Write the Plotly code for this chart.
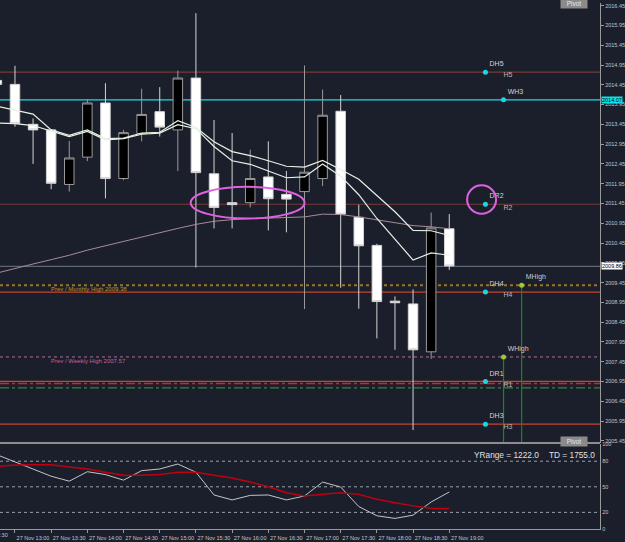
import plotly.graph_objects as go

# ---------------- data ----------------
times = ['2015-11-27 12:45', '2015-11-27 13:00', '2015-11-27 13:15', '2015-11-27 13:30',
         '2015-11-27 13:45', '2015-11-27 14:00', '2015-11-27 14:15', '2015-11-27 14:30',
         '2015-11-27 14:45', '2015-11-27 15:00', '2015-11-27 15:15', '2015-11-27 15:30',
         '2015-11-27 15:45', '2015-11-27 16:00', '2015-11-27 16:15', '2015-11-27 16:30',
         '2015-11-27 16:45', '2015-11-27 17:00', '2015-11-27 17:15', '2015-11-27 17:30',
         '2015-11-27 17:45', '2015-11-27 18:00', '2015-11-27 18:15', '2015-11-27 18:30',
         '2015-11-27 18:45', '2015-11-27 19:00']

opens = [2014.56, 2014.46, 2013.45, 2013.31, 2011.93, 2012.62, 2013.99, 2012.08, 2013.22,
         2013.77, 2013.31, 2014.62, 2012.20, 2011.47, 2011.47, 2012.12, 2011.68, 2011.75,
         2012.08, 2013.78, 2011.10, 2010.39, 2008.98, 2008.91, 2007.70, 2010.81]
highs = [2014.60, 2014.93, 2013.60, 2013.33, 2013.03, 2014.08, 2014.49, 2013.31, 2014.35,
         2014.39, 2014.81, 2016.26, 2013.56, 2013.23, 2012.81, 2013.02, 2012.27, 2014.94,
         2014.33, 2014.19, 2011.42, 2010.43, 2009.10, 2009.28, 2011.22, 2011.18]
lows = [2014.40, 2013.39, 2012.45, 2011.81, 2011.75, 2012.52, 2011.58, 2012.04, 2013.02,
        2013.14, 2012.27, 2009.83, 2010.82, 2010.82, 2011.35, 2010.77, 2010.72, 2008.78,
        2011.89, 2009.32, 2008.79, 2008.04, 2007.75, 2005.72, 2007.52, 2009.77]
closes = [2014.46, 2013.47, 2013.31, 2011.96, 2012.60, 2013.99, 2012.08, 2013.24, 2013.70,
          2013.38, 2014.62, 2012.23, 2011.35, 2011.42, 2012.08, 2011.57, 2011.56, 2012.24,
          2013.68, 2011.18, 2010.38, 2008.97, 2008.94, 2007.75, 2010.83, 2009.87]

ema_fast = [2013.91, 2013.81, 2013.71, 2013.31, 2013.17, 2013.31, 2013.09, 2013.10, 2013.23,
            2013.25, 2013.54, 2013.37, 2013.01, 2012.76, 2012.66, 2012.53, 2012.39, 2012.37,
            2012.54, 2012.31, 2012.06, 2011.65, 2011.24, 2010.77, 2010.76, 2010.64]
ema_slow = [2013.48, 2013.47, 2013.42, 2013.27, 2013.14, 2013.27, 2013.06, 2013.09, 2013.20,
            2013.23, 2013.44, 2013.34, 2012.89, 2012.53, 2012.44, 2012.27, 2012.10, 2012.12,
            2012.45, 2012.14, 2011.67, 2011.07, 2010.54, 2010.02, 2010.20, 2010.14]
ma_long = [2009.69, 2009.81, 2009.92, 2010.03, 2010.14, 2010.27, 2010.38, 2010.49, 2010.61,
           2010.72, 2010.82, 2010.92, 2011.00, 2011.04, 2011.07, 2011.08, 2011.09, 2011.11,
           2011.18, 2011.17, 2011.11, 2011.04, 2010.97, 2010.89, 2010.86, 2010.81]

osc_main = [87.6, 79.1, 70.6, 62.4, 56.6, 67.7, 64.3, 57.8, 68.9, 70.9, 76.7, 67.1, 40.4,
            34.6, 39.9, 40.4, 34.6, 39.2, 55.5, 49.7, 26.8, 16.0, 12.9, 16.7, 32.2, 43.9]
osc_signal = [73.8, 75.5, 75.9, 75.9, 73.2, 70.9, 67.1, 63.6, 63.6, 64.3, 67.1, 67.1, 63.6,
              60.4, 55.5, 50.0, 43.0, 39.2, 41.1, 43.0, 41.1, 35.3, 31.4, 27.6, 24.8, 24.5]
osc_levels = [20, 50, 80]
osc_ticks = [0, 20, 50, 80, 100]

daily_names = ['DH5', 'DR2', 'DH4', 'DR1', 'DH3']
daily_subs = ['H5', 'R2', 'H4', 'R1', 'H3']
daily_levels = [2014.77, 2011.43, 2009.21, 2006.95, 2005.87]
daily_time = '2015-11-27 19:30'
sub_time = '2015-11-27 19:45'

weekly_h3 = 2014.07
weekly_h3_time = '2015-11-27 19:45'
current_price = 2009.86
prev_month_high = 2009.38
prev_week_high = 2007.57
mhigh_time = '2015-11-27 20:00'
whigh_time = '2015-11-27 19:45'
red_dashdot_level = 2006.90
green_dashdot_level = 2006.79

price_ticks = [2005.45 + 0.5 * i for i in range(23)]
time_ticks = ['2015-11-27 13:00', '2015-11-27 13:30', '2015-11-27 14:00', '2015-11-27 14:30',
              '2015-11-27 15:00', '2015-11-27 15:30', '2015-11-27 16:00', '2015-11-27 16:30',
              '2015-11-27 17:00', '2015-11-27 17:30', '2015-11-27 18:00', '2015-11-27 18:30',
              '2015-11-27 19:00']
x_range = ['2015-11-27 12:47:35', '2015-11-27 21:05:00']
y_range = [2005.3925, 2016.5175]

yrange_value = 1222.0
td_value = 1755.0

# ---------------- styling helpers ----------------
W, H = 625, 542
BG = '#1b1f2b'
FONT = 'Liberation Sans, Arial, sans-serif'
XDOM = [0, 601 / W]


def py(px):
    return 1 - px / H


def pxx(px):
    return px / W


fig = go.Figure()

# candles
fig.add_trace(go.Candlestick(
    x=times, open=opens, high=highs, low=lows, close=closes,
    increasing=dict(fillcolor='#000000', line=dict(color='#9a9a9a', width=1)),
    decreasing=dict(fillcolor='#ffffff', line=dict(color='#d4d4d4', width=1)),
    whiskerwidth=0, hoverinfo='skip', showlegend=False, xaxis='x', yaxis='y'))

# moving averages
fig.add_trace(go.Scatter(x=times, y=ma_long, mode='lines', line=dict(color='#a88a9c', width=1),
                         hoverinfo='skip', showlegend=False, xaxis='x', yaxis='y'))
fig.add_trace(go.Scatter(x=times, y=ema_fast, mode='lines', line=dict(color='#e4f2e4', width=1.2),
                         hoverinfo='skip', showlegend=False, xaxis='x', yaxis='y'))
fig.add_trace(go.Scatter(x=times, y=ema_slow, mode='lines', line=dict(color='#e4f2e4', width=1.2),
                         hoverinfo='skip', showlegend=False, xaxis='x', yaxis='y'))

shapes = []
# horizontal level lines
for name, lvl in zip(daily_names, daily_levels):
    col = '#7a3a36' if lvl > current_price else '#c8452f'
    shapes.append(dict(type='line', xref='x domain', yref='y', x0=0, x1=1, y0=lvl, y1=lvl,
                       line=dict(color=col, width=1.2), layer='below'))
shapes.append(dict(type='line', xref='x domain', yref='y', x0=0, x1=1, y0=weekly_h3, y1=weekly_h3,
                   line=dict(color='#10e0ec', width=1.2), layer='below'))
shapes.append(dict(type='line', xref='x domain', yref='y', x0=0, x1=1, y0=current_price, y1=current_price,
                   line=dict(color='#5c6674', width=1.2), layer='below'))
shapes.append(dict(type='line', xref='x domain', yref='y', x0=0, x1=1, y0=prev_month_high, y1=prev_month_high,
                   line=dict(color='#9c7420', width=2, dash='dot'), layer='below'))
shapes.append(dict(type='line', xref='x domain', yref='y', x0=0, x1=1, y0=prev_week_high, y1=prev_week_high,
                   line=dict(color='#b0709c', width=1, dash='dot'), layer='below'))
shapes.append(dict(type='line', xref='x domain', yref='y', x0=0, x1=1, y0=red_dashdot_level, y1=red_dashdot_level,
                   line=dict(color='#e02020', width=1.5, dash='dashdot'), layer='below'))
shapes.append(dict(type='line', xref='x domain', yref='y', x0=0, x1=1, y0=green_dashdot_level, y1=green_dashdot_level,
                   line=dict(color='#2a8a3c', width=1.2, dash='dashdot'), layer='below'))

# oscillator grid
for lv in osc_levels:
    shapes.append(dict(type='line', xref='x2 domain', yref='y2', x0=0, x1=1, y0=lv, y1=lv,
                       line=dict(color='#9aa0a8', width=1, dash='dot'), layer='below'))

# panel separator
shapes.append(dict(type='line', xref='paper', yref='paper', x0=0, x1=XDOM[1], y0=py(445), y1=py(445),
                   line=dict(color='#8e8e8e', width=2)))

# hand drawn highlight circles
shapes.append(dict(type='circle', xref='x', yref='y',
                   x0='2015-11-27 15:25:40', x1='2015-11-27 17:00:00', y0=2011.07, y1=2011.87,
                   line=dict(color='#e060e0', width=2)))
shapes.append(dict(type='circle', xref='x', yref='y',
                   x0='2015-11-27 19:14:50', x1='2015-11-27 19:38:50', y0=2011.19, y1=2011.91,
                   line=dict(color='#e060e0', width=2)))

# MHigh / WHigh verticals
fig.add_trace(go.Scatter(x=[mhigh_time, mhigh_time], y=[prev_month_high, y_range[0]], mode='lines',
                         line=dict(color='#168a16', width=1.2), hoverinfo='skip', showlegend=False))
fig.add_trace(go.Scatter(x=[whigh_time, whigh_time], y=[prev_week_high, y_range[0]], mode='lines',
                         line=dict(color='#168a16', width=1.2), hoverinfo='skip', showlegend=False))

# level markers and names
fig.add_trace(go.Scatter(x=[daily_time] * len(daily_levels), y=daily_levels, mode='markers+text',
                         text=daily_names, textposition='top right',
                         textfont=dict(family=FONT, size=7, color='#d4d4d4'),
                         marker=dict(color='#18d8e8', size=5), hoverinfo='skip', showlegend=False))
fig.add_trace(go.Scatter(x=[sub_time] * len(daily_levels), y=daily_levels, mode='text',
                         text=daily_subs, textposition='bottom right',
                         textfont=dict(family=FONT, size=7, color='#b8b8b8'),
                         hoverinfo='skip', showlegend=False))
fig.add_trace(go.Scatter(x=[weekly_h3_time], y=[weekly_h3], mode='markers+text',
                         text=['WH3'], textposition='top right',
                         textfont=dict(family=FONT, size=7, color='#d4d4d4'),
                         marker=dict(color='#18d8e8', size=5), hoverinfo='skip', showlegend=False))
fig.add_trace(go.Scatter(x=[mhigh_time, whigh_time], y=[prev_month_high, prev_week_high], mode='markers+text',
                         text=['MHigh', 'WHigh'], textposition='top right',
                         textfont=dict(family=FONT, size=7, color='#c8cccc'),
                         marker=dict(color='#9acd32', size=5), hoverinfo='skip', showlegend=False))

# oscillator
fig.add_trace(go.Scatter(x=times, y=osc_main, mode='lines', line=dict(color='#c4c4c8', width=1),
                         hoverinfo='skip', showlegend=False, xaxis='x2', yaxis='y2'))
fig.add_trace(go.Scatter(x=times, y=osc_signal, mode='lines', line=dict(color='#c00010', width=1.5),
                         hoverinfo='skip', showlegend=False, xaxis='x2', yaxis='y2'))

annotations = [
    dict(text='Prev / Monthly High %.2f' % prev_month_high, xref='paper', yref='y', x=pxx(49), y=prev_month_high,
         xanchor='left', yanchor='middle', yshift=-4, showarrow=False,
         font=dict(family=FONT, size=6, color='#c8901e')),
    dict(text='Prev / Weekly High %.2f' % prev_week_high, xref='paper', yref='y', x=pxx(49), y=prev_week_high,
         xanchor='left', yanchor='middle', yshift=-4, showarrow=False,
         font=dict(family=FONT, size=6, color='#c8609c')),
    dict(text='%.2f' % weekly_h3, xref='paper', yref='y', x=pxx(602), y=weekly_h3, xanchor='left',
         yanchor='middle', showarrow=False, bgcolor='#10e0ec', borderpad=0,
         font=dict(family=FONT, size=5.5, color='#000000')),
    dict(text='%.2f' % current_price, xref='paper', yref='y', x=pxx(602), y=current_price, xanchor='left',
         yanchor='middle', showarrow=False, bgcolor='#ffffff', borderpad=0,
         font=dict(family=FONT, size=5.5, color='#000000')),
    dict(text='YRange = %.1f' % yrange_value, xref='paper', yref='paper', x=pxx(472.7), y=py(457.3),
         xanchor='left', yanchor='middle', showarrow=False,
         font=dict(family=FONT, size=8.3, color='#e0e0e0')),
    dict(text='TD = %.1f' % td_value, xref='paper', yref='paper', x=pxx(548), y=py(457.3),
         xanchor='left', yanchor='middle', showarrow=False,
         font=dict(family=FONT, size=8.3, color='#e0e0e0')),
    dict(text='Pivot', xref='paper', yref='paper', x=pxx(575), y=py(443), xanchor='center', yanchor='middle',
         showarrow=False, bgcolor='#8a8a8a', borderpad=1, width=24,
         font=dict(family=FONT, size=6.5, color='#e8e8e8')),
    dict(text='Pivot', xref='paper', yref='paper', x=pxx(575), y=py(0), xanchor='center', yanchor='middle',
         showarrow=False, bgcolor='#8a8a8a', borderpad=1, width=24,
         font=dict(family=FONT, size=6.5, color='#e8e8e8')),
    dict(text='27 Nov 12:30', xref='paper', yref='paper', x=pxx(10), y=py(538), xanchor='right',
         yanchor='middle', showarrow=False, font=dict(family=FONT, size=5.5, color='#c4c4c4')),
]

fig.update_layout(
    width=W, height=H, margin=dict(l=0, r=0, t=0, b=0),
    paper_bgcolor=BG, plot_bgcolor=BG, showlegend=False, boxgap=0.25,
    font=dict(family=FONT, color='#c4c4c4'), hovermode=False,
    shapes=shapes, annotations=annotations,
    xaxis=dict(domain=XDOM, range=x_range, type='date', anchor='y', showticklabels=False,
               showgrid=False, zeroline=False, rangeslider=dict(visible=False), fixedrange=True),
    yaxis=dict(domain=[py(445), 1], range=y_range, side='right', anchor='x',
               tickvals=price_ticks, ticktext=['%.2f' % v for v in price_ticks],
               tickfont=dict(family=FONT, size=5.5, color='#c4c4c4'), ticks='outside', ticklen=3,
               tickcolor='#9a9a9a', showline=True, linecolor='#9a9a9a', linewidth=1,
               showgrid=False, zeroline=False),
    xaxis2=dict(domain=XDOM, range=x_range, type='date', anchor='y2', matches='x',
                tickvals=time_ticks, tickformat='%d %b %H:%M', ticklabelshift=18,
                tickfont=dict(family=FONT, size=5.5, color='#c4c4c4'), ticks='outside', ticklen=3,
                tickcolor='#9a9a9a', showline=True, linecolor='#9a9a9a', linewidth=1,
                showgrid=False, zeroline=False),
    yaxis2=dict(domain=[py(532.3), py(446.1)], range=[0, 100], side='right', anchor='x2',
                tickvals=osc_ticks, tickfont=dict(family=FONT, size=5.5, color='#c4c4c4'),
                ticks='', showline=True, linecolor='#9a9a9a', linewidth=1,
                showgrid=False, zeroline=False),
)

fig.write_html('out.html', config={'displayModeBar': False, 'staticPlot': True},
               post_script="document.body.style.margin='0px';")
